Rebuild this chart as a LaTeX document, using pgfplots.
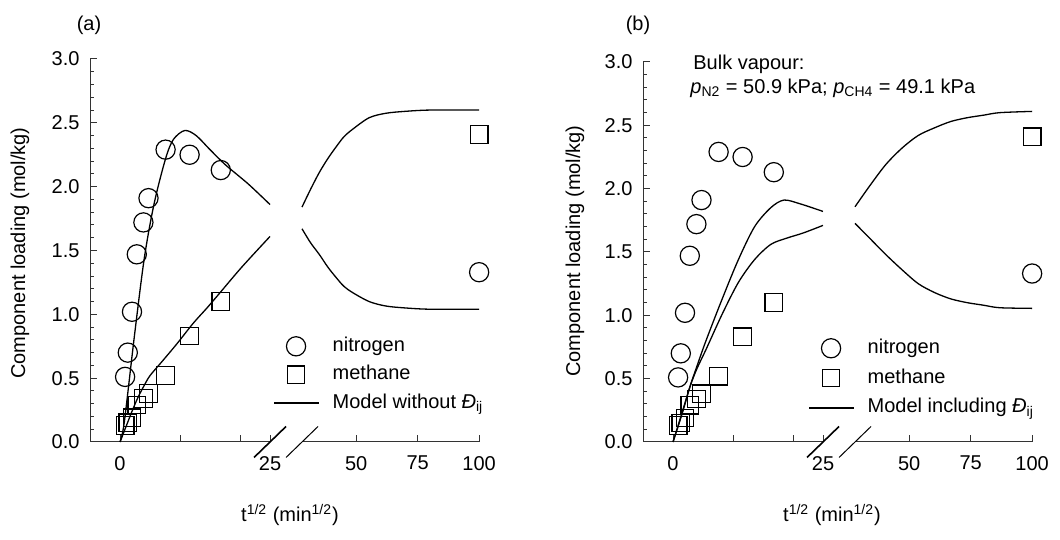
\documentclass[border=0pt]{standalone}
\usepackage{fontspec}
\setmainfont{Liberation Sans}
\usepackage{pgfplots}
\usepackage{pgfplotstable}
\pgfplotsset{compat=1.18}

% measured loadings, t^{1/2} < 25
\pgfplotstableread{
x     y
0.85  0.51
1.3   0.70
2.0   1.02
2.8   1.47
3.9   1.72
4.75  1.91
7.6   2.29
11.6  2.25
16.8  2.13
}\nexp
\pgfplotstableread{
x     y
0.85  0.13
1.3   0.15
2.0   0.19
2.8   0.29
3.9   0.34
4.75  0.38
7.6   0.52
11.6  0.83
16.8  1.10
}\cexp
% model without D_ij
\pgfplotstableread{
x     y
0     0
0.7   0.15
2.4   0.83
4.05  1.44
5.7   1.87
7.6   2.22
8.9   2.37
10.8  2.44
12.7  2.40
15    2.29
17.6  2.17
21.4  2.02
25    1.86
}\aNleft
\pgfplotstableread{
x     y
0     0
1     0.12
2     0.24
3     0.35
4     0.44
5     0.52
7     0.63
9.5   0.77
12.2  0.93
14.5  1.05
16.5  1.16
20.3  1.37
25    1.61
}\aCleft
\pgfplotstableread{
x     y
28    1.84
31.5  1.98
35    2.11
38.5  2.22
41.8  2.31
45    2.39
48.6  2.45
55.3  2.54
62.1  2.575
70    2.59
80    2.60
100   2.60
}\aCright
\pgfplotstableread{
x     y
28    1.67
31.5  1.56
35    1.47
38.5  1.37
41.8  1.29
45    1.22
48.6  1.17
55.3  1.10
62.1  1.065
70    1.05
80    1.04
100   1.04
}\aNright
% model including D_ij
\pgfplotstableread{
x     y
0     0
1.5   0.22
2.85  0.44
4     0.60
5.5   0.80
8.2   1.13
10.9  1.44
13.6  1.70
16.3  1.85
18.5  1.91
21.2  1.88
24.4  1.83
25    1.82
}\bNleft
\pgfplotstableread{
x     y
0     0
1.5   0.23
2.85  0.44
4     0.58
5.5   0.73
8.2   1.01
10.9  1.26
13.6  1.44
16.3  1.56
19    1.61
21.7  1.65
25    1.71
}\bCleft
\pgfplotstableread{
x     y
28    1.857
33.9  2.02
40.5  2.19
47.1  2.32
53.7  2.42
60.3  2.48
66.9  2.53
73.6  2.56
80.2  2.58
86.8  2.60
100   2.61
}\bCright
\pgfplotstableread{
x     y
28    1.726
33.9  1.61
40.5  1.48
47.1  1.36
53.7  1.25
60.3  1.18
66.9  1.13
73.6  1.10
80.2  1.08
86.8  1.06
100   1.055
}\bNright

\newcommand{\fs}{\fontsize{10}{12}\selectfont}

\pgfplotsset{
  seg/.style={scale only axis, clip=false, ymin=0, ymax=3,
    axis x line*=bottom, tick align=inside,
    major tick length=3.5pt, minor tick length=2pt,
    axis line style={line width=0.5pt, black!80},
    every tick/.style={black!80, line width=0.5pt},
    tick label style={font=\fs},
    xticklabel style={yshift=-3.5pt},
    yticklabel style={xshift=-1.7pt}},
  leftseg/.style={seg, xmin=-5, xmax=25, width=90pt, axis y line*=left,
    ytick={0,0.5,1,1.5,2,2.5,3}, yticklabels={0.0,0.5,1.0,1.5,2.0,2.5,3.0},
    minor y tick num=4,
    xtick={0,10,20,25}, xticklabels={0,,,25}},
  rightseg/.style={seg, xmin=28, xmax=100, width=88.56pt, axis y line=none,
    ytick=\empty, xtick={50,75,100}, xticklabels={50,75,100}},
  nmark/.style={black, only marks, mark=o, mark size=4.8pt, line width=0.6pt,
    legend image code/.code={\draw[##1] plot coordinates {(11pt,0pt)};}},
  cmark/.style={black, only marks, mark=square, mark size=4.4pt, line width=0.6pt,
    legend image code/.code={\draw[##1] plot coordinates {(11pt,0pt)};}},
  model/.style={black, no marks, smooth, line width=0.65pt,
    legend image code/.code={\draw[##1] (0pt,0pt) -- (22.5pt,0pt);}},
  leg/.style={legend cell align=left,
    legend style={draw=none, fill=none, inner sep=0pt, column sep=6.5pt,
      font=\fs, nodes={inner sep=0pt, text height=7.5pt, text depth=2.5pt}}},
}

\begin{document}
\begin{tikzpicture}[font=\fs]
\path[use as bounding box] (0pt,0pt) rectangle (530pt,270pt);

% ---------- (a) ----------
\begin{axis}[leftseg, leg, at={(45pt,49pt)}, anchor=south west, height=191.5pt,
  legend style={at={(1.0167,0.277)}, anchor=north west, row sep=4.2pt}]
\addplot[nmark] table {\nexp};
\addlegendentry{nitrogen}
\addplot[cmark] table {\cexp};
\addlegendentry{methane}
\addplot[model] table {\aNleft};
\addlegendentry{Model without \textit{Đ}\textsubscript{ij}}
\addplot[model, forget plot] table {\aCleft};
\draw[line width=0.8pt] ([shift={(-8pt,-7.75pt)}]axis cs:25,0) -- ([shift={(8pt,7.75pt)}]axis cs:25,0);
\end{axis}
\begin{axis}[rightseg, at={(151pt,49pt)}, anchor=south west, height=191.5pt]
\addplot[nmark] coordinates {(100,1.33)};
\addplot[cmark] coordinates {(100,2.41)};
\addplot[model] table {\aCright};
\addplot[model] table {\aNright};
\draw[line width=0.5pt] ([shift={(-8pt,-7.75pt)}]axis cs:28,0) -- ([shift={(8pt,7.75pt)}]axis cs:28,0);
\end{axis}

% ---------- (b) ----------
\begin{axis}[leftseg, leg, at={(321.5pt,49pt)}, anchor=south west, height=190pt,
  legend style={at={(0.9167,0.274)}, anchor=north west, row sep=4.9pt}]
\addplot[nmark] table {\nexp};
\addlegendentry{nitrogen}
\addplot[cmark] table {\cexp};
\addlegendentry{methane}
\addplot[model] table {\bNleft};
\addlegendentry{Model including \textit{Đ}\textsubscript{ij}}
\addplot[model, forget plot] table {\bCleft};
\draw[line width=0.8pt] ([shift={(-8pt,-7.75pt)}]axis cs:25,0) -- ([shift={(8pt,7.75pt)}]axis cs:25,0);
\end{axis}
\begin{axis}[rightseg, at={(427.5pt,49pt)}, anchor=south west, height=190pt]
\addplot[nmark] coordinates {(100,1.33)};
\addplot[cmark] coordinates {(100,2.41)};
\addplot[model] table {\bCright};
\addplot[model] table {\bNright};
\draw[line width=0.5pt] ([shift={(-8pt,-7.75pt)}]axis cs:28,0) -- ([shift={(8pt,7.75pt)}]axis cs:28,0);
\end{axis}

% panel labels, axis titles, annotation
\node at (44.5pt,257.5pt) {(a)};
\node at (319pt,257.5pt) {(b)};
\node[rotate=90] at (10pt,143.5pt) {Component loading (mol/kg)};
\node[rotate=90] at (287.5pt,144.5pt) {Component loading (mol/kg)};
\node at (145pt,12.5pt) {t\textsuperscript{1/2} (min\textsuperscript{1/2})};
\node at (416pt,12.5pt) {t\textsuperscript{1/2} (min\textsuperscript{1/2})};
\node[anchor=base west, inner sep=0pt] at (346.5pt,235pt) {Bulk vapour:};
\node[anchor=base west, inner sep=0pt] at (345pt,223pt)
  {\textit{p}\textsubscript{N2} = 50.9 kPa; \textit{p}\textsubscript{CH4} = 49.1 kPa};
\end{tikzpicture}
\end{document}
